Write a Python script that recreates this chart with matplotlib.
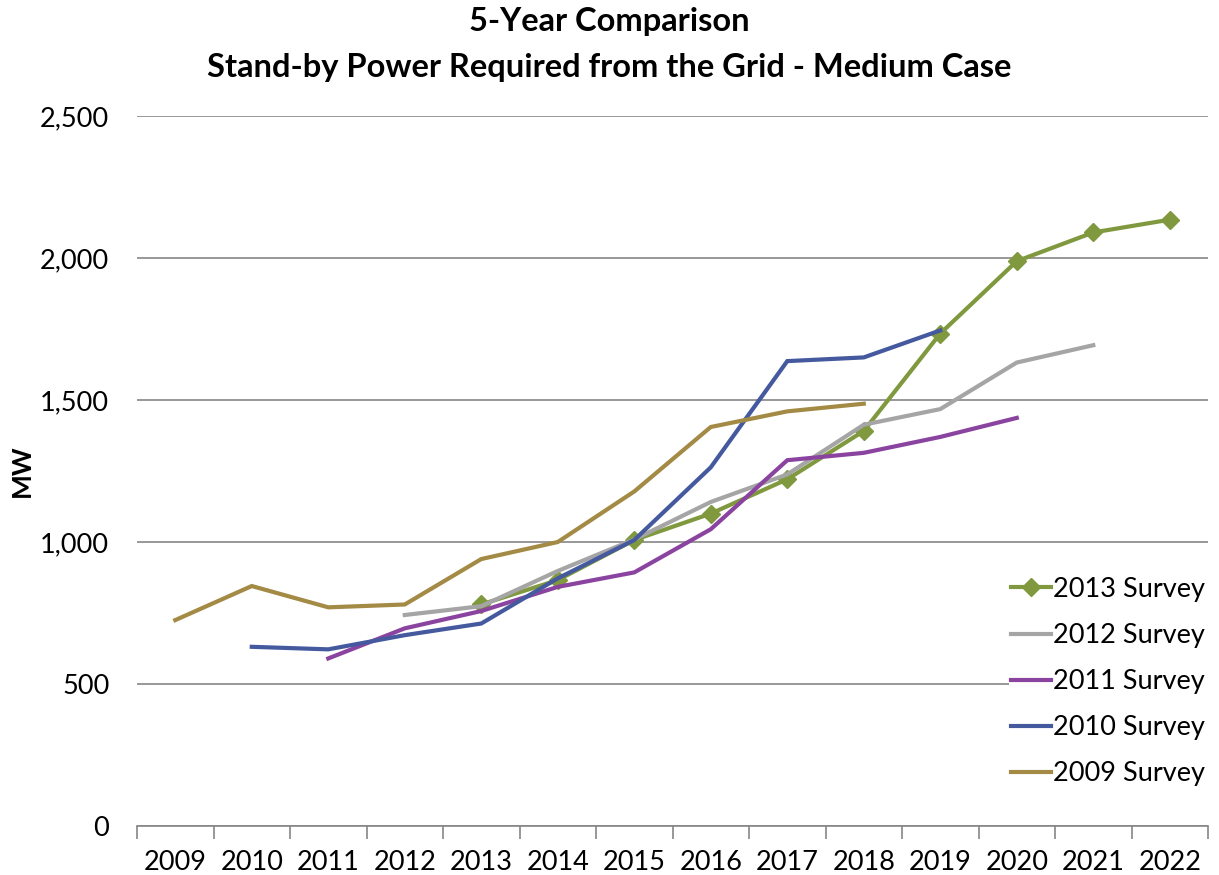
import matplotlib.pyplot as plt
from matplotlib.ticker import FuncFormatter, FixedLocator

plt.rcParams['font.family'] = ['Lato', 'DejaVu Sans']

years = [str(y) for y in range(2009, 2023)]

# values per survey, starting index into years
s2009 = [725, 845, 770, 780, 940, 1000, 1178, 1405, 1460, 1487]
s2010 = [631, 622, 672, 713, 872, 1007, 1263, 1637, 1650, 1745]
s2011 = [590, 696, 757, 842, 893, 1045, 1288, 1314, 1370, 1437]
s2012 = [743, 774, 898, 1009, 1141, 1238, 1413, 1468, 1632, 1693]
s2013 = [780, 866, 1007, 1100, 1221, 1391, 1734, 1989, 2090, 2135]

series = [
    ("2013 Survey", s2013, 4, "#80993f", "D"),
    ("2012 Survey", s2012, 3, "#a5a5a5", None),
    ("2011 Survey", s2011, 2, "#8a44a0", None),
    ("2010 Survey", s2010, 1, "#45599f", None),
    ("2009 Survey", s2009, 0, "#a38a45", None),
]

fig = plt.figure(figsize=(12.19, 8.75), dpi=100)
ax = fig.add_axes([0.1124, 0.056, 0.8786, 0.8114])

for label, vals, start, color, marker in series:
    xs = [start + i + 0.5 for i in range(len(vals))]
    ax.plot(xs, vals, color=color, lw=3, marker=marker, markersize=9,
            label=label, solid_joinstyle='miter', zorder=3)

ax.set_xlim(0, len(years))
ax.set_ylim(0, 2500)
ax.set_yticks(range(0, 2501, 500))
ax.yaxis.set_major_formatter(FuncFormatter(lambda v, p: f"{int(v):,}"))
ax.grid(axis='y', color='#868686', lw=1.2)
ax.set_axisbelow(True)

ax.xaxis.set_major_locator(FixedLocator(range(len(years) + 1)))
ax.xaxis.set_minor_locator(FixedLocator([i + 0.5 for i in range(len(years))]))
ax.set_xticklabels([])
ax.set_xticklabels(years, minor=True)
ax.tick_params(axis='x', which='major', length=9, color='#868686', width=1.2)
ax.tick_params(axis='x', which='minor', length=0, pad=17, labelsize=19.5)
ax.tick_params(axis='y', length=0, pad=20, labelsize=19.5)

for s in ['left', 'right', 'top']:
    ax.spines[s].set_visible(False)
ax.spines['bottom'].set_color('#868686')
ax.spines['bottom'].set_linewidth(1.2)

fig.text(22 / 1219, 1 - 471 / 875, "MW", rotation=90, ha='center', va='center',
         fontsize=19, fontweight='bold')
fig.text(0.5, 1 - 22 / 875, "5-Year Comparison", ha='center', va='center',
         fontsize=23.5, fontweight='bold')
fig.text(0.5, 1 - 67 / 875, "Stand-by Power Required from the Grid - Medium Case",
         ha='center', va='center', fontsize=23.5, fontweight='bold')

leg = ax.legend(loc='lower right', bbox_to_anchor=(1.0, 0.052), fontsize=19.5,
                frameon=True, facecolor='white', edgecolor='none', framealpha=1,
                handlelength=1.45, handletextpad=0.1, labelspacing=0.78,
                borderpad=0.1, borderaxespad=0.0)

fig.savefig("out.png", dpi=100)
